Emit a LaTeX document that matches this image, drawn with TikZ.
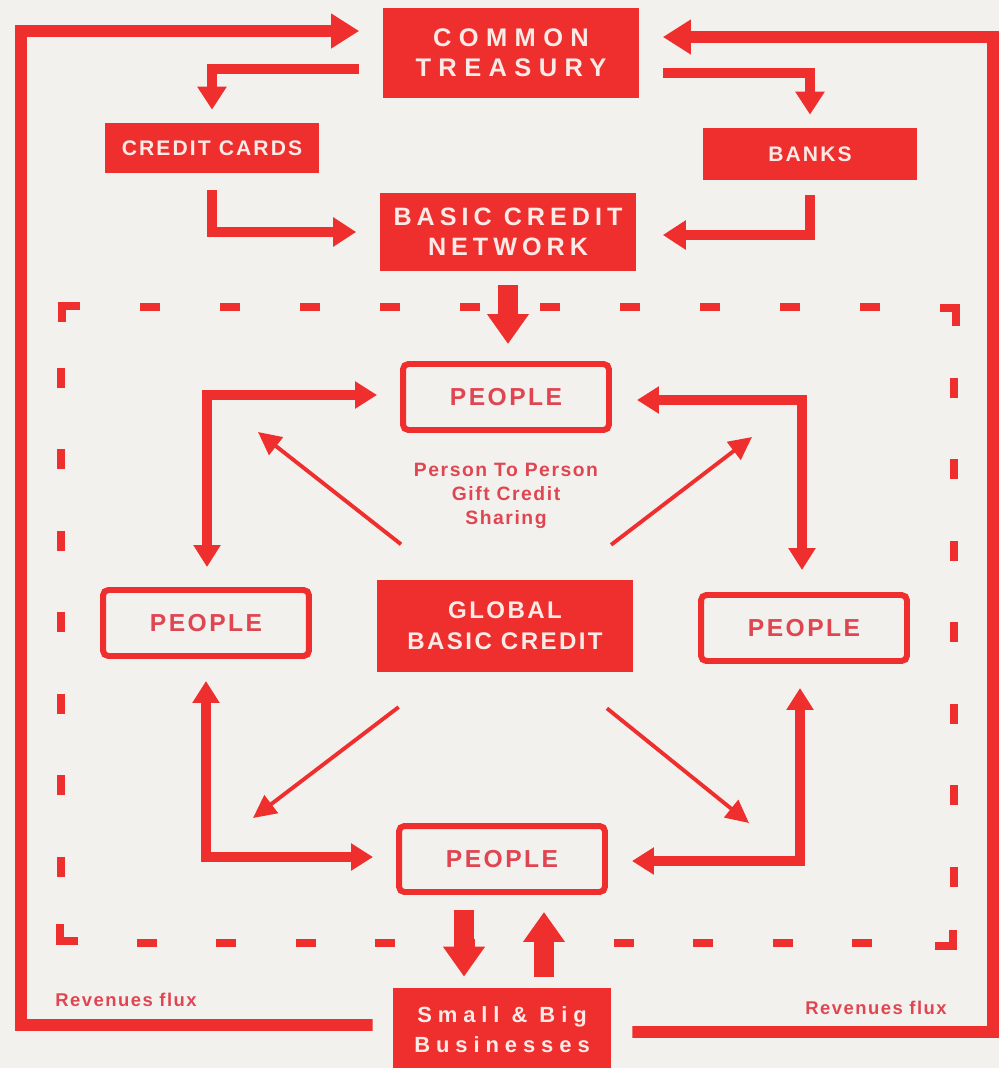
\documentclass[tikz,border=0pt]{standalone}
\usepackage{fontspec}
\setmainfont{Liberation Sans}
\newfontfamily\trackxl[LetterSpace=29]{Liberation Sans}
\newfontfamily\trackl[LetterSpace=27]{Liberation Sans}
\newfontfamily\trackm[LetterSpace=20]{Liberation Sans}
\newfontfamily\tracks[LetterSpace=10]{Liberation Sans}
\newfontfamily\trackxs[LetterSpace=8]{Liberation Sans}
\usepackage{tikz}
\usetikzlibrary{arrows.meta}

\definecolor{flux}{RGB}{239,46,46}
\definecolor{paper}{RGB}{243,241,237}
\definecolor{ink}{RGB}{224,70,82}
\definecolor{snow}{RGB}{251,234,230}

\begin{document}
\begin{tikzpicture}[x=0.02cm, y=-0.02cm,
    fullbox/.style={fill=flux, text=snow, inner sep=0pt, align=center},
    peoplebox/.style={draw=flux, line width=3.4pt, rounded corners=3pt, text=ink, inner sep=0pt,
      minimum width=4.12cm, minimum height=1.32cm, font=\fontsize{14}{17}\selectfont\bfseries\tracks},
    bigloop/.style={draw=flux, line width=6.8pt, -{Triangle[length=0.56cm,width=0.66cm]}},
    elbow/.style={draw=flux, line width=5.4pt, -{Triangle[length=0.46cm,width=0.56cm]}},
    twoway/.style={draw=flux, line width=5.2pt,
      {Triangle[length=0.44cm,width=0.52cm]}-{Triangle[length=0.44cm,width=0.52cm]}},
    spoke/.style={draw=flux, line width=2.2pt, -{Triangle[length=0.46cm,width=0.44cm]}, shorten <=1.13cm},
    fat/.style={draw=flux, line width=11pt, -{Triangle[length=0.6cm,width=0.8cm]}},
    frame/.style={draw=flux, line width=4.5pt},
    note/.style={text=ink, align=center, inner sep=0pt}]

    \fill[paper] (0,0) rectangle (999,1068);
    \useasboundingbox (0,0) rectangle (999,1068);

    % dashed frame
    \draw[frame] (62,322) -- (62,306) -- (80,306);
    \draw[frame] (940,308) -- (956,308) -- (956,326);
    \draw[frame] (60,924) -- (60,941) -- (78,941);
    \draw[frame] (935,946) -- (953,946) -- (953,930);
    \draw[frame, dash pattern=on 0.4cm off 1.2cm] (140,307) -- (880,307);
    \draw[frame, dash pattern=on 0.4cm off 1.19cm] (137,943) -- (873,943);
    \draw[frame, dash pattern=on 0.4cm off 1.23cm] (61,368) -- (61,877);
    \draw[frame, dash pattern=on 0.4cm off 1.23cm] (954,378) -- (954,887);

    \node[fullbox, minimum width=5.14cm, minimum height=1.8cm,
      font=\fontsize{14.5}{17}\selectfont\bfseries\trackxl] (treasury) at (511,53) {COMMON\\TREASURY};
    \node[fullbox, minimum width=4.28cm, minimum height=1cm,
      font=\fontsize{12}{14}\selectfont\bfseries\tracks] (cards) at (212,148) {CREDIT CARDS};
    \node[fullbox, minimum width=4.28cm, minimum height=1.04cm,
      font=\fontsize{12}{14}\selectfont\bfseries\tracks] (banks) at (810,154) {BANKS};
    \node[fullbox, minimum width=5.14cm, minimum height=1.58cm,
      font=\fontsize{14.3}{17}\selectfont\bfseries\trackm] (network) at (508,232) {BASIC CREDIT\\NETWORK};
    \node[fullbox, minimum width=5.14cm, minimum height=1.86cm,
      font=\fontsize{13.7}{17.5}\selectfont\bfseries\tracks] (global) at (505,626) {GLOBAL\\BASIC CREDIT};
    \node[fullbox, minimum width=4.36cm, minimum height=1.68cm,
      font=\fontsize{12.5}{17}\selectfont\bfseries\trackl] (business) at (502,1030) {Small \& Big\\Businesses};

    \node[peoplebox] (ptop) at (506,397) {PEOPLE};
    \node[peoplebox] (pleft) at (206,623) {PEOPLE};
    \node[peoplebox] (pright) at (804,628) {PEOPLE};
    \node[peoplebox] (pbottom) at (502,859) {PEOPLE};

    \node[note, font=\fontsize{11}{13.7}\selectfont\bfseries\trackxs] (sharing) at (506,496)
      {Person To Person\\Gift Credit\\Sharing};
    \node[note, font=\fontsize{10.5}{12}\selectfont\bfseries\trackxs] (fluxwest) at (126,1000) {Revenues flux};
    \node[note, font=\fontsize{10.5}{12}\selectfont\bfseries\trackxs] (fluxeast) at (876,1008) {Revenues flux};

    % treasury, cards, banks, network
    \draw[elbow, shorten <=0.46cm, shorten >=0.26cm] ([yshift=-0.32cm]treasury.west) -| (cards.north);
    \draw[elbow, shorten <=0.46cm, shorten >=0.26cm] ([yshift=-0.4cm]treasury.east) -| (banks.north);
    \draw[elbow, shorten <=0.34cm, shorten >=0.46cm] (cards.south) |- (network.west);
    \draw[elbow, shorten <=0.3cm, shorten >=0.52cm] (banks.south) |- ([yshift=-0.06cm]network.east);
    \draw[fat, shorten <=0.26cm, shorten >=0.34cm] (network.south) -- (network.south |- ptop.north);

    % revenues back to the treasury
    \coordinate (westturn) at (21,31);
    \coordinate (eastturn) at (993,37);
    \draw[bigloop, shorten <=0.4cm, shorten >=0.46cm]
      ([yshift=0.1cm]business.west) -| (westturn) -- ([yshift=0.44cm]treasury.west);
    \draw[bigloop, shorten <=0.42cm, shorten >=0.46cm]
      ([yshift=-0.04cm]business.east) -| (eastturn) -- ([yshift=0.32cm]treasury.east);

    % people ring
    \draw[twoway, shorten <=0.46cm, shorten >=0.4cm] ([yshift=0.04cm]ptop.west) -| ([xshift=0.02cm]pleft.north);
    \draw[twoway, shorten <=0.5cm, shorten >=0.44cm] ([yshift=-0.06cm]ptop.east) -| ([xshift=-0.04cm]pright.north);
    \draw[twoway, shorten <=0.44cm, shorten >=0.46cm] (pleft.south) |- ([yshift=0.04cm]pbottom.west);
    \draw[twoway, shorten <=0.48cm, shorten >=0.48cm] ([xshift=-0.08cm]pright.south) |- ([yshift=-0.04cm]pbottom.east);

    % spokes out of the global credit
    \coordinate (nwtip) at (258,432);
    \coordinate (netip) at (752,437);
    \coordinate (swtip) at (253,818);
    \coordinate (setip) at (749,823);
    \draw[spoke] (global) -- (nwtip);
    \draw[spoke] (global) -- (netip);
    \draw[spoke] (global) -- (swtip);
    \draw[spoke] (global) -- (setip);

    % people and businesses
    \draw[fat, shorten <=0.3cm, shorten >=0.22cm] ([xshift=-0.76cm]pbottom.south) -- ([xshift=-0.76cm]business.north);
    \draw[fat, shorten <=0.22cm, shorten >=0.34cm] ([xshift=0.84cm]business.north) -- ([xshift=0.84cm]pbottom.south);
\end{tikzpicture}
\end{document}
